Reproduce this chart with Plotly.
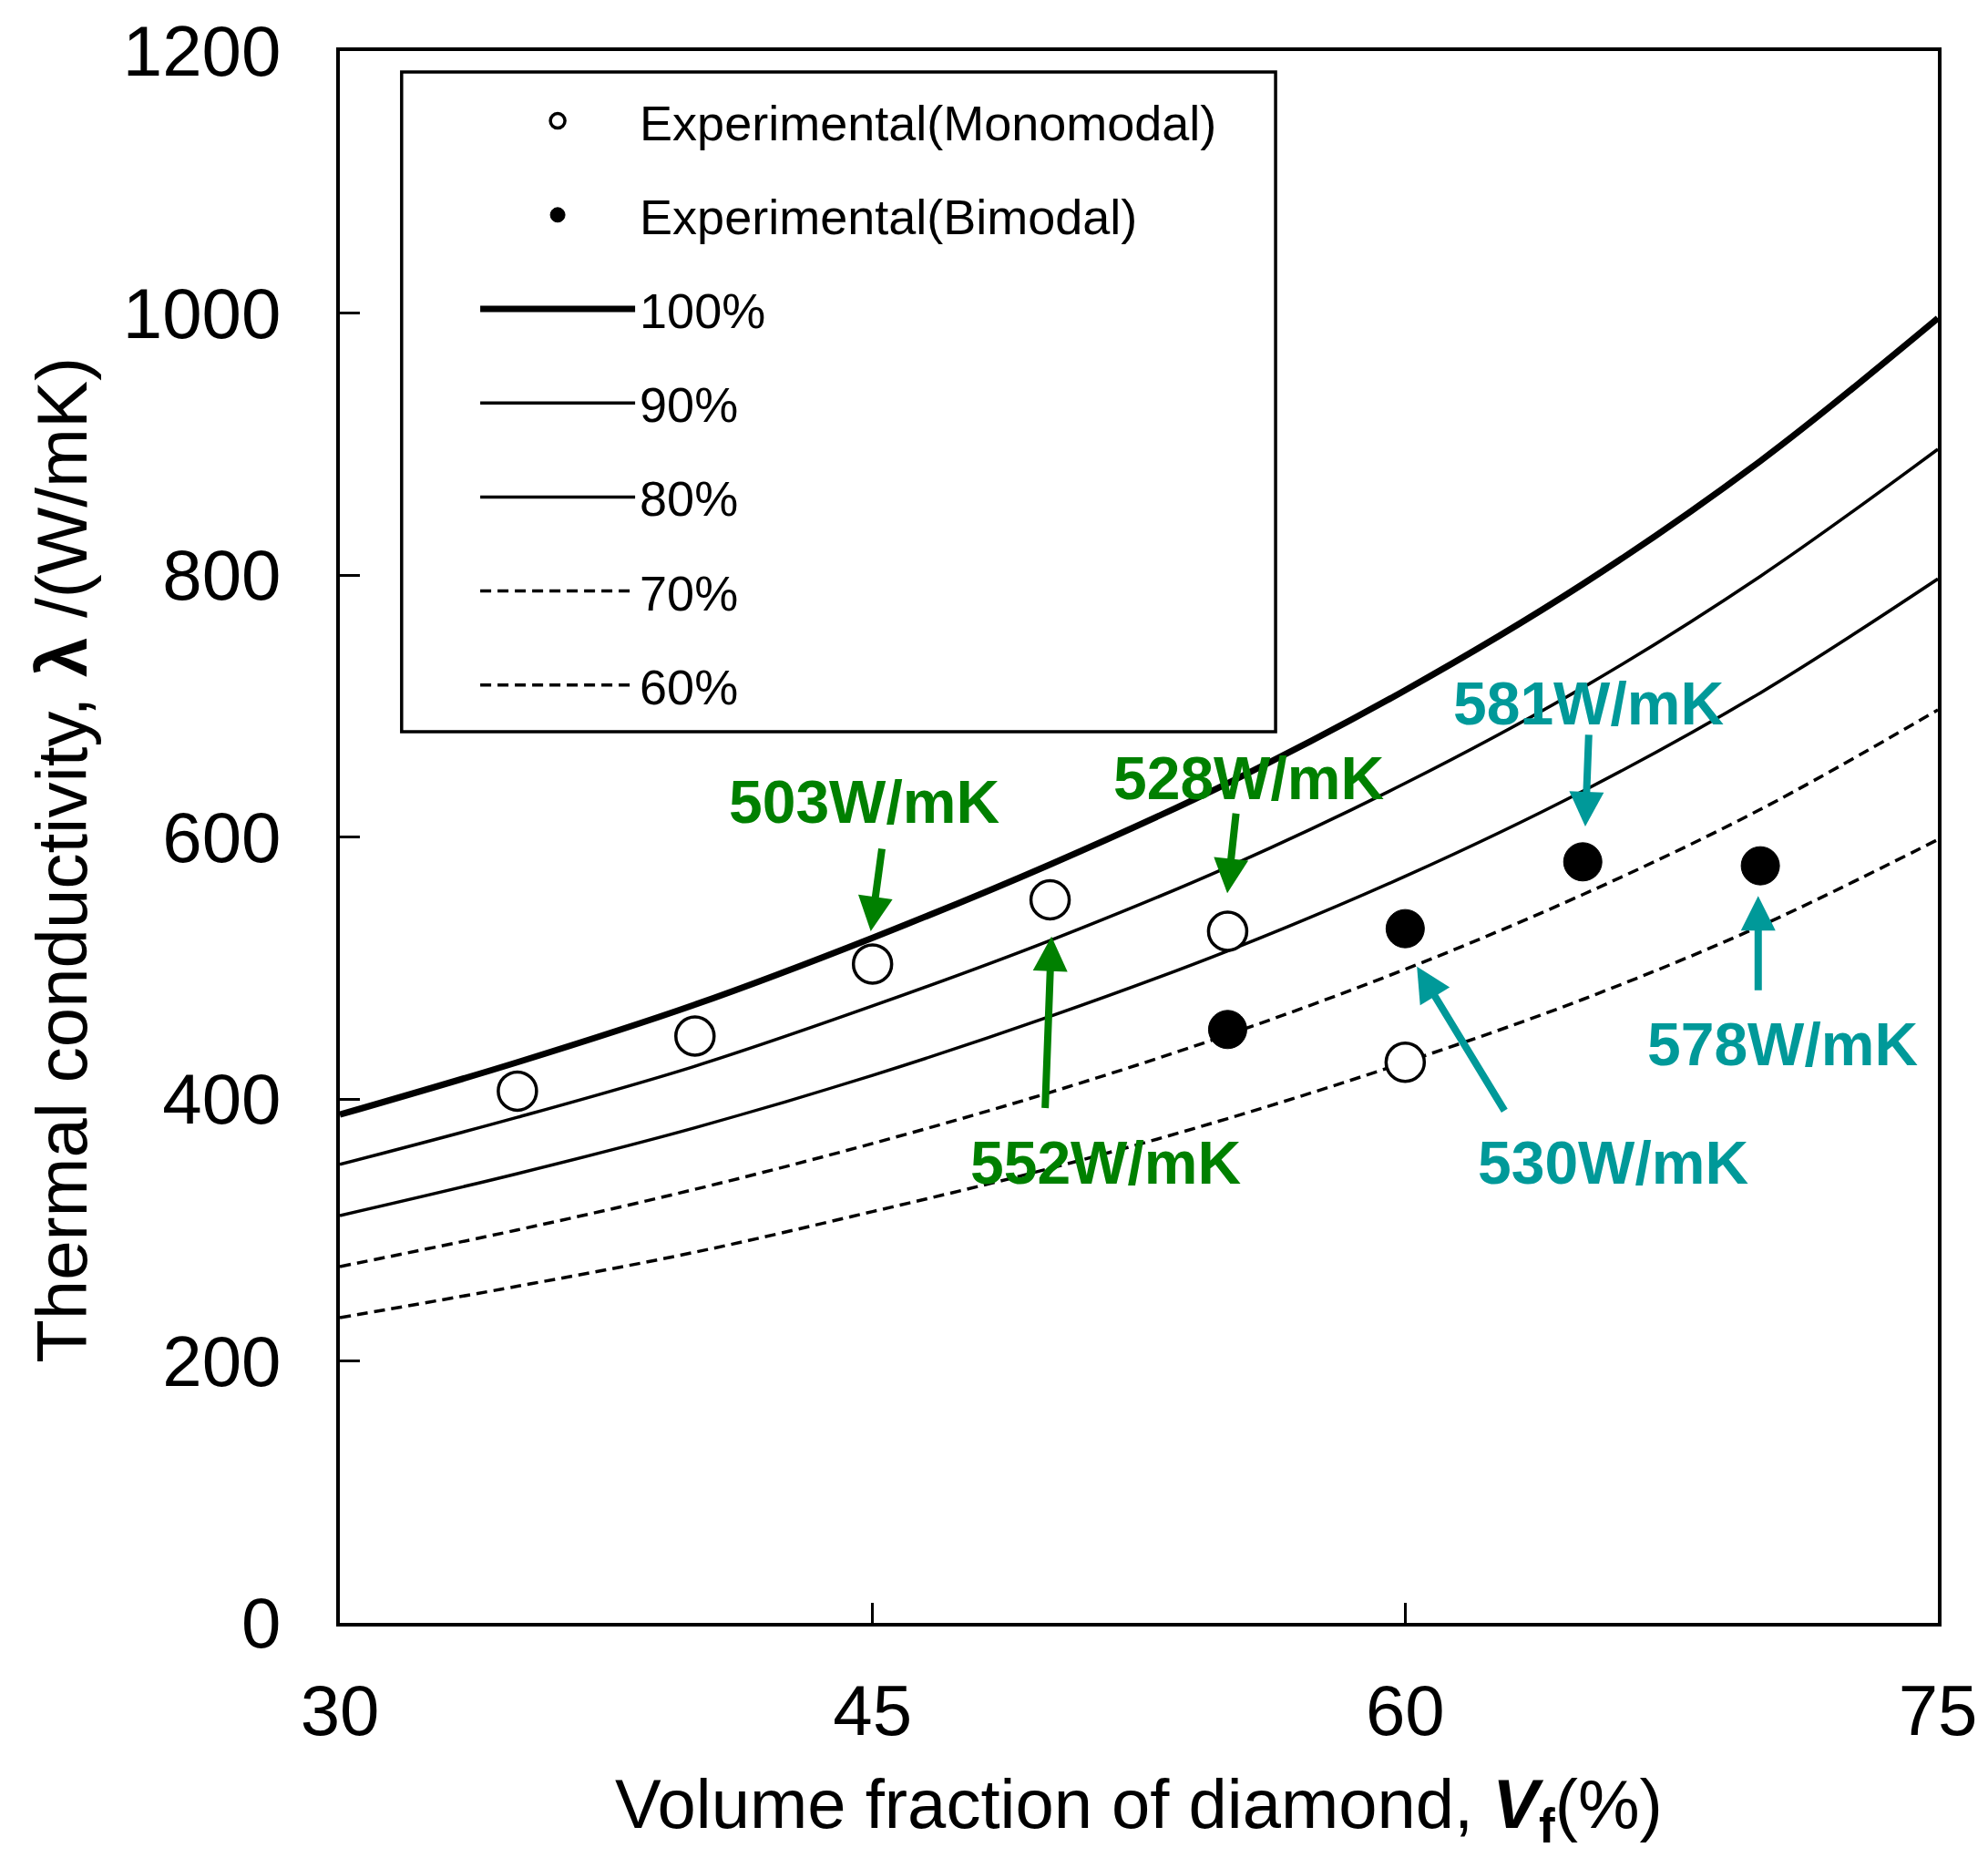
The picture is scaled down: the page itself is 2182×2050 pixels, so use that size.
import plotly.graph_objects as go

# ---- data ----
vf_model = [30, 35, 40, 45, 50, 55, 60, 65, 70, 75]
k_100 = [388, 428, 472, 523, 579, 641, 712, 793, 887, 996]
k_90 = [350, 386, 425, 471, 521, 577, 641, 714, 799, 896]
k_80 = [311, 343, 378, 418, 463, 513, 570, 635, 710, 797]
k_70 = [272, 300, 331, 366, 405, 449, 499, 556, 621, 697]
k_60 = [233, 257, 283, 314, 347, 385, 428, 476, 532, 598]

vf_mono = [35, 40, 45, 50, 55, 60]
k_mono = [406, 448, 503, 552, 528, 428]
vf_bi = [55, 60, 65, 70]
k_bi = [453, 530, 581, 578]

# annotation labels: text, text position, arrow tip, arrow tail, colour
ann_text = ["503W/mK", "528W/mK", "552W/mK", "581W/mK", "530W/mK", "578W/mK"]
ann_text_x = [44.77, 55.6, 51.57, 65.17, 65.85, 70.62]
ann_text_y = [627, 645, 351, 702, 351, 442]
ann_tip_x = [44.95, 54.99, 50.04, 65.07, 60.33, 69.94]
ann_tip_y = [528, 557, 524, 608, 501, 555]
ann_tail_x = [45.27, 55.24, 49.86, 65.17, 62.82, 69.94]
ann_tail_y = [592, 619, 392, 679, 390, 482]
ann_color = ["#008000", "#008000", "#008000", "#009999", "#009999", "#009999"]

x_ticks = [30, 45, 60, 75]
y_ticks = [0, 200, 400, 600, 800, 1000, 1200]

FONT = "Liberation Sans, Arial, sans-serif"

fig = go.Figure()

curves = [
    ("100%", k_100, 7, "solid"),
    ("90%", k_90, 3.5, "solid"),
    ("80%", k_80, 3.5, "solid"),
    ("70%", k_70, 3.5, "12px,7px"),
    ("60%", k_60, 3.5, "12px,7px"),
]
for i, (name, ys, w, dash) in enumerate(curves):
    fig.add_trace(go.Scatter(
        x=vf_model, y=ys, mode="lines", name=name,
        line=dict(color="black", width=w, dash=dash, shape="spline", smoothing=1.0),
        legendgroup=name, legendrank=3 + i,
    ))

fig.add_trace(go.Scatter(
    x=vf_mono, y=k_mono, mode="markers", name="Experimental(Monomodal)",
    marker=dict(symbol="circle", size=42, color="white", line=dict(color="black", width=3.5)),
    legendgroup="mono", legendrank=1,
))
fig.add_trace(go.Scatter(
    x=vf_bi, y=k_bi, mode="markers", name="Experimental(Bimodal)",
    marker=dict(symbol="circle", size=42, color="black", line=dict(color="black", width=1)),
    legendgroup="bi", legendrank=2,
))

annotations = []
for t, tx, ty, px, py, qx, qy, c in zip(ann_text, ann_text_x, ann_text_y, ann_tip_x, ann_tip_y,
                                         ann_tail_x, ann_tail_y, ann_color):
    annotations.append(dict(
        x=px, y=py, ax=qx, ay=qy, xref="x", yref="y", axref="x", ayref="y",
        text="", showarrow=True, arrowhead=2, arrowsize=0.95, arrowwidth=8,
        arrowcolor=c, standoff=0, startstandoff=0,
    ))
    annotations.append(dict(
        x=tx, y=ty, xref="x", yref="y", text="<b>" + t + "</b>", showarrow=False,
        font=dict(family=FONT, size=66, color=c), xanchor="center", yanchor="middle",
    ))

# y-axis title placed as a rotated annotation to match the reference position
annotations.append(dict(
    x=(67 - 373) / 1759, y=(1781 - 944) / 1725, xref="paper", yref="paper",
    text="Thermal conductivity, <b>λ</b> /(W/mK)", textangle=-90, showarrow=False,
    font=dict(family=FONT, size=78, color="black"), xanchor="center", yanchor="middle",
))

fig.update_layout(
    width=2182, height=2050,
    margin=dict(l=373, r=50, t=56, b=269),
    paper_bgcolor="white", plot_bgcolor="white",
    font=dict(family=FONT, color="black"),
    showlegend=True,
    legend=dict(
        x=0.085, y=0.9797, xanchor="left", yanchor="top",
        bgcolor="rgba(0,0,0,0)", borderwidth=0,
        font=dict(family=FONT, size=54, color="black"),
        itemwidth=170, tracegroupgap=30, traceorder="grouped",
    ),
    annotations=annotations,
    shapes=[dict(type="rect", xref="paper", yref="paper",
                 x0=(441 - 373) / 1759, x1=(1403 - 373) / 1759,
                 y0=(1781 - 803) / 1725, y1=(1781 - 79) / 1725,
                 line=dict(color="black", width=3.5), fillcolor="rgba(0,0,0,0)", layer="below")],
)

fig.update_xaxes(
    range=[30, 75], tickvals=x_ticks, ticktext=[str(v) for v in x_ticks],
    showgrid=False, zeroline=False, showline=True, linecolor="black", linewidth=4, mirror=True,
    ticks="inside", ticklen=22, tickwidth=3, tickcolor="black",
    tickfont=dict(family=FONT, size=78, color="black"), ticklabelstandoff=25,
    title=dict(text="Volume fraction of diamond, <b><i>V</i></b><sub><b>f</b></sub>(%)",
               font=dict(family=FONT, size=76, color="black"), standoff=34),
)
fig.update_yaxes(
    range=[0, 1200], tickvals=y_ticks,
    showgrid=False, zeroline=False, showline=True, linecolor="black", linewidth=4, mirror=True,
    ticks="inside", ticklen=22, tickwidth=3, tickcolor="black",
    tickfont=dict(family=FONT, size=78, color="black"), ticklabelstandoff=45,
)

fig.write_html("out.html")
